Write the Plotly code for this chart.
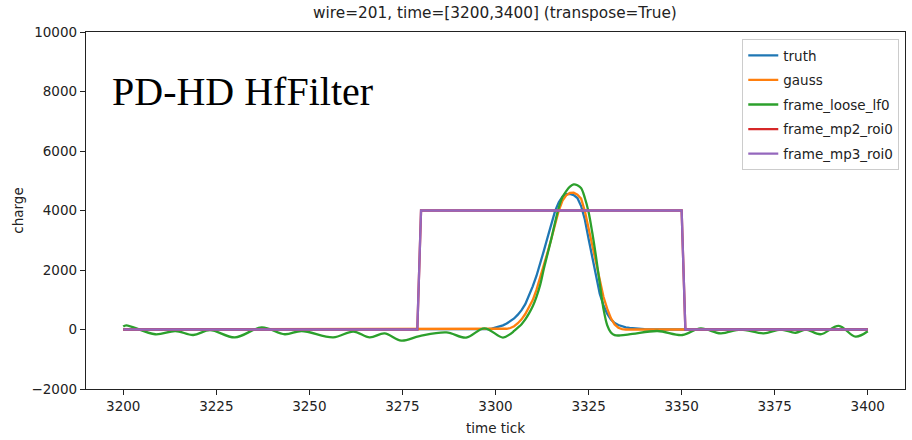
import plotly.graph_objects as go

# ---- data ----
truth_ticks = [3200, 3296, 3297, 3298, 3299, 3300, 3301, 3302, 3303, 3304, 3305, 3306, 3307, 3308, 3309,
               3310, 3311, 3312, 3313, 3314, 3315, 3316, 3317, 3318, 3319, 3320, 3321, 3322, 3323,
               3324, 3325, 3326, 3327, 3328, 3329, 3330, 3331, 3332, 3333, 3334, 3335, 3336, 3337,
               3338, 3339, 3340, 3342, 3400]
truth_vals = [0, 0, 0, 10, 30, 60, 95, 140, 200, 280, 370, 500, 650, 850, 1130,
              1450, 1800, 2200, 2650, 3100, 3550, 3980, 4280, 4470, 4550, 4560, 4520, 4420, 4150,
              3700, 3050, 2400, 1750, 1200, 820, 530, 340, 220, 150, 105, 75, 55, 40,
              30, 20, 10, 0, 0]

gauss_ticks = [3200, 3300, 3301, 3302, 3303, 3304, 3305, 3306, 3307, 3308, 3309, 3310, 3311, 3312,
               3313, 3314, 3315, 3316, 3317, 3318, 3319, 3320, 3321, 3322, 3323, 3324, 3325, 3326,
               3327, 3328, 3329, 3330, 3331, 3332, 3333, 3334, 3335, 3400]
gauss_vals = [0, 0, 5, 10, 25, 50, 110, 210, 340, 520, 740, 990, 1330, 1730,
              2150, 2600, 3050, 3560, 4000, 4330, 4510, 4590, 4600, 4530, 4400, 3980, 3400, 2850,
              2250, 1700, 1100, 700, 380, 170, 60, 15, 0, 0]

loose_ticks = [3200, 3200.8, 3208.6, 3214.0, 3218.8, 3223.3, 3230.0, 3237.2, 3243.4, 3247.9,
               3256.4, 3261.8, 3266.2, 3270.2, 3274.7, 3279.6, 3286.8, 3292.1, 3297.0, 3302.0,
               3304, 3305, 3306, 3307, 3308, 3309, 3310, 3311, 3312, 3313, 3314, 3315, 3316,
               3317, 3318, 3319, 3320, 3321, 3322, 3323, 3324, 3325, 3326, 3327, 3328, 3329,
               3330, 3331, 3332, 3333.5, 3336.8, 3343.5, 3350.2, 3355.1, 3360.5, 3365.8, 3372.0,
               3376.6, 3380.6, 3383.3, 3387.3, 3392.2, 3396.7, 3400]
loose_vals = [100, 140, -160, -50, -185, -20, -265, 70, -160, -50,
              -265, -70, -265, -130, -375, -220, -95, -275, 40, -270,
              -150, -50, 60, 180, 340, 540, 780, 1100, 1500, 2050, 2550, 3050, 3600,
              4100, 4450, 4650, 4800, 4880, 4850, 4750, 4420, 3950, 3250, 2450, 1550, 700,
              150, -100, -190, -200, -150, -50, -185, 40, -130, 0, -130,
              0, -110, 0, -160, 120, -240, -60]

roi_ticks = [3200, 3279, 3280, 3350, 3351, 3400]
mp2_vals = [0, 0, 4000, 4000, 0, 0]
mp3_vals = [0, 0, 4000, 4000, 0, 0]

x_tickvals = [3200, 3225, 3250, 3275, 3300, 3325, 3350, 3375, 3400]
y_tickvals = [-2000, 0, 2000, 4000, 6000, 8000, 10000]
y_ticktext = ["\u22122000", "0", "2000", "4000", "6000", "8000", "10000"]

names = ["truth", "gauss", "frame_loose_lf0", "frame_mp2_roi0", "frame_mp3_roi0"]
colors = ["#1f77b4", "#ff7f0e", "#2ca02c", "#d62728", "#9467bd"]

fig = go.Figure()
series = [
    (truth_ticks, truth_vals, "linear"),
    (gauss_ticks, gauss_vals, "linear"),
    (loose_ticks, loose_vals, "spline"),
    (roi_ticks, mp2_vals, "linear"),
    (roi_ticks, mp3_vals, "linear"),
]
for i, (xs, ys, shape) in enumerate(series):
    line = dict(color=colors[i], width=2.3, shape=shape)
    if shape == "spline":
        line["smoothing"] = 1.0
    fig.add_trace(go.Scatter(x=xs, y=ys, mode="lines", name=names[i], line=line,
                             legendgroup=names[i]))

font_main = "DejaVu Sans"
axis_common = dict(
    showline=True, linecolor="#222", linewidth=1.3, mirror=True,
    ticks="outside", ticklen=5, tickwidth=1.2, tickcolor="#222",
    showgrid=False, zeroline=False,
    tickfont=dict(family=font_main, size=13.5, color="#222"),
)
fig.update_xaxes(range=[3190, 3410], tickvals=x_tickvals,
                 title=dict(text="time tick", font=dict(family=font_main, size=13.5, color="#222"),
                            standoff=10),
                 **axis_common)
fig.update_yaxes(range=[-2000, 10000], tickvals=y_tickvals, ticktext=y_ticktext,
                 title=dict(text="charge", font=dict(family=font_main, size=13.5, color="#222"),
                            standoff=4),
                 **axis_common)

fig.add_annotation(x=3196.5, y=8000, xref="x", yref="y", text="PD-HD HfFilter",
                   showarrow=False, xanchor="left", yanchor="middle",
                   font=dict(family="Liberation Serif", size=40, color="black"))

fig.update_layout(
    width=912, height=440,
    margin=dict(l=86, r=7, t=32, b=51),
    paper_bgcolor="white", plot_bgcolor="white",
    title=dict(text="wire=201, time=[3200,3400] (transpose=True)", x=0.5427, xanchor="center",
               y=0.972, yanchor="middle",
               font=dict(family=font_main, size=15.3, color="#222")),
    legend=dict(x=0.993, y=0.98, xanchor="right", yanchor="top",
                bgcolor="white", bordercolor="#cccccc", borderwidth=1,
                font=dict(family=font_main, size=13.5, color="#222"),
                tracegroupgap=4, traceorder="grouped"),
    showlegend=True,
)

fig.write_html("out.html")
